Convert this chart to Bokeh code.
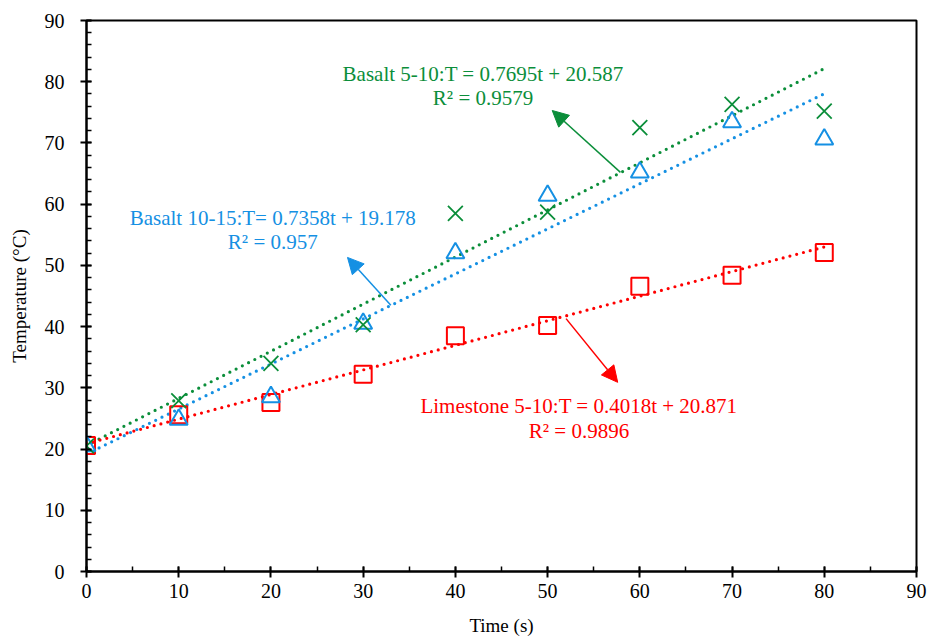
from bokeh.plotting import figure
from bokeh.models import Range1d, Arrow, NormalHead, Label, FixedTicker
from bokeh.embed import file_html
from bokeh.resources import INLINE

# ---- data ----
time_s = [0, 10, 20, 30, 40, 50, 60, 70, 80]
basalt_5_10 = [20.5, 27.9, 34.0, 40.3, 58.5, 58.7, 72.5, 76.3, 75.2]
basalt_10_15 = [20.5, 24.8, 28.5, 40.5, 52.0, 61.4, 65.2, 73.4, 70.6]
limestone_5_10 = [20.6, 25.6, 27.6, 32.2, 38.5, 40.2, 46.6, 48.4, 52.1]

# trendline coefficients (slope, intercept) as printed on chart
fit_slopes = [0.7695, 0.7358, 0.4018]
fit_intercepts = [20.587, 19.178, 20.871]
fit_x = [0, 80]

labels_eq = ["Basalt 5-10:T = 0.7695t + 20.587", "Basalt 10-15:T= 0.7358t + 19.178",
             "Limestone 5-10:T = 0.4018t + 20.871"]
labels_r2 = ["R² = 0.9579", "R² = 0.957", "R² = 0.9896"]

GREEN = "#0B8E3A"
BLUE = "#1590E3"
RED = "#FF0000"
FONT = "Liberation Serif"

p = figure(frame_width=830, frame_height=551, min_border_left=86, min_border_right=12,
           min_border_top=20, min_border_bottom=68, output_backend="svg",
           toolbar_location=None, x_range=Range1d(0, 90), y_range=Range1d(0, 90))
p.outline_line_color = "black"
p.outline_line_width = 2
p.grid.visible = False
p.background_fill_color = "white"
p.border_fill_color = "white"

for ax in (p.xaxis[0], p.yaxis[0]):
    ax.axis_line_width = 2
    ax.axis_line_color = "black"
    ax.major_tick_line_width = 2
    ax.minor_tick_line_width = 1.5
    ax.major_tick_in = 5
    ax.major_tick_out = 6
    ax.minor_tick_in = 5
    ax.minor_tick_out = 0
    ax.major_label_text_font = FONT
    ax.major_label_text_font_size = "20px"
    ax.major_label_text_color = "black"
    ax.axis_label_text_font = FONT
    ax.axis_label_text_font_size = "19px"
    ax.axis_label_text_font_style = "normal"
    ax.axis_label_text_color = "black"

p.xaxis.ticker = FixedTicker(ticks=list(range(0, 91, 10)), minor_ticks=list(range(0, 91, 5)))
p.yaxis.ticker = FixedTicker(ticks=list(range(0, 91, 10)), minor_ticks=list(range(0, 91, 2)))
p.xaxis.axis_label = "Time (s)"
p.yaxis.axis_label = "Temperature (°C)"
p.xaxis.major_label_standoff = 6
p.xaxis.axis_label_standoff = 14
p.yaxis.major_label_standoff = 16
p.yaxis.axis_label_standoff = 12

colors = [GREEN, BLUE, RED]
# trendlines
for s, b, c in zip(fit_slopes, fit_intercepts, colors):
    ys = [s * x + b for x in fit_x]
    p.line(fit_x, ys, line_color=c, line_width=3.2, line_dash="0 7", line_cap="round")

# markers
p.scatter(time_s, limestone_5_10, marker="square", size=17, fill_color=None,
          line_color=RED, line_width=2)
p.scatter(time_s, basalt_10_15, marker="triangle", size=18, fill_color=None,
          line_color=BLUE, line_width=2)
p.scatter(time_s, basalt_5_10, marker="x", size=21, line_color=GREEN, line_width=1.8)

# annotations
text_pos = [(43.0, 81.2, 77.4), (20.2, 57.8, 53.8), (53.4, 27.0, 23.0)]
for (x, y1, y2), t1, t2, c in zip(text_pos, labels_eq, labels_r2, colors):
    for y, t in ((y1, t1), (y2, t2)):
        p.add_layout(Label(x=x, y=y, text=t, text_align="center", text_baseline="middle",
                           text_font=FONT, text_font_size="21px", text_color=c))

arrows = [((57.9, 65.2), (50.5, 75.3), GREEN), ((33.0, 43.5), (28.3, 51.3), BLUE),
          ((52.0, 41.3), (57.6, 30.9), RED)]
for (xs, ys), (xe, ye), c in arrows:
    p.add_layout(Arrow(x_start=xs, y_start=ys, x_end=xe, y_end=ye, line_color=c, line_width=1.5,
                       end=NormalHead(size=16, fill_color=c, line_color=c)))

open("out.html", "w").write(file_html(p, INLINE))
